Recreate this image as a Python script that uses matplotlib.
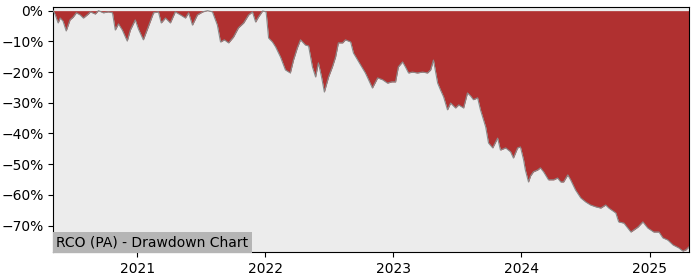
import matplotlib
matplotlib.use("Agg")
import matplotlib.pyplot as plt
import matplotlib.dates as mdates
import matplotlib.ticker as mticker
import pandas as pd

dates = [
    "2020-05-06", "2020-05-12", "2020-05-20", "2020-05-26", "2020-06-03", "2020-06-12",
    "2020-06-23", "2020-07-02", "2020-07-11", "2020-07-22", "2020-07-31", "2020-08-14",
    "2020-08-20", "2020-09-03", "2020-09-12", "2020-09-26", "2020-10-10", "2020-10-22",
    "2020-10-30", "2020-11-08", "2020-11-19", "2020-12-03", "2020-12-12", "2020-12-26",
    "2021-01-04", "2021-01-18", "2021-02-01", "2021-02-16", "2021-03-02", "2021-03-10",
    "2021-03-22", "2021-04-05", "2021-04-19", "2021-05-04", "2021-05-18", "2021-05-27",
    "2021-06-07", "2021-06-21", "2021-07-06", "2021-07-20", "2021-08-03", "2021-08-17",
    "2021-08-26", "2021-09-06", "2021-09-18", "2021-10-02", "2021-10-16", "2021-10-31",
    "2021-11-14", "2021-11-25", "2021-12-04", "2021-12-12", "2021-12-24",
    "2022-01-03", "2022-01-10", "2022-01-21", "2022-01-30", "2022-02-13", "2022-02-27",
    "2022-03-13", "2022-03-22", "2022-04-02", "2022-04-11", "2022-04-25", "2022-05-04",
    "2022-05-15", "2022-05-24", "2022-06-01", "2022-06-10", "2022-06-18", "2022-06-30",
    "2022-07-11", "2022-07-20", "2022-07-28", "2022-08-09", "2022-08-17", "2022-09-01",
    "2022-09-09", "2022-09-21", "2022-09-29", "2022-10-13", "2022-10-22", "2022-11-02",
    "2022-11-17", "2022-12-01", "2022-12-15", "2022-12-27",
    "2023-01-07", "2023-01-15", "2023-01-27", "2023-02-04", "2023-02-13", "2023-02-24",
    "2023-03-10", "2023-03-25", "2023-04-08", "2023-04-17", "2023-04-25", "2023-05-07",
    "2023-05-15", "2023-05-24", "2023-06-04", "2023-06-13", "2023-06-27", "2023-07-06",
    "2023-07-20", "2023-07-31", "2023-08-09", "2023-08-17", "2023-08-29", "2023-09-06",
    "2023-09-21", "2023-09-29", "2023-10-11", "2023-10-25", "2023-11-02", "2023-11-17",
    "2023-12-01", "2023-12-09", "2023-12-21", "2023-12-29",
    "2024-01-07", "2024-01-12", "2024-01-21", "2024-01-27", "2024-02-04", "2024-02-16",
    "2024-02-24", "2024-03-04", "2024-03-18", "2024-04-02", "2024-04-13", "2024-04-22",
    "2024-04-30", "2024-05-12", "2024-05-20", "2024-06-03", "2024-06-18", "2024-07-02",
    "2024-07-16", "2024-07-31", "2024-08-14", "2024-08-28", "2024-09-06", "2024-09-26",
    "2024-10-04", "2024-10-19", "2024-11-08", "2024-11-28", "2024-12-12", "2024-12-26",
    "2025-01-12", "2025-01-27", "2025-02-07", "2025-02-21", "2025-03-08", "2025-03-25",
    "2025-04-05", "2025-04-14", "2025-04-22",
]

drawdown_pct = [
    0.0, -1.4, -4.0, -2.4, -3.4, -6.6,
    -3.0, -2.1, -0.7, -1.4, -2.4, -1.1,
    -0.4, -1.1, 0.0, -0.7, -0.4, -0.7,
    -6.3, -4.3, -6.3, -9.9, -6.3, -3.0,
    -6.0, -9.5, -5.3, -0.7, -0.4, -4.0,
    -2.4, -4.0, -0.4, -1.4, -2.4, -0.7,
    -4.7, -1.4, -0.4, 0.0, -0.4, -4.7,
    -10.2, -9.5, -10.5, -8.6, -5.6, -4.0,
    -1.4, -0.4, -3.7, -2.1, -0.1,
    -0.4, -8.9, -10.2, -11.8, -15.1, -19.3,
    -20.3, -16.1, -12.1, -9.5, -11.2, -11.5,
    -18.3, -21.6, -17.0, -21.6, -26.5, -21.6,
    -18.3, -15.1, -10.5, -10.5, -9.5, -10.2,
    -13.8, -16.1, -17.7, -20.3, -22.5, -25.2,
    -21.9, -22.5, -23.6, -23.2,
    -23.2, -18.3, -16.7, -18.3, -20.3, -20.0,
    -20.3, -20.0, -20.3, -19.3, -16.1, -23.6,
    -25.8, -28.1, -32.3, -30.1, -31.7, -30.7,
    -31.7, -26.8, -27.8, -29.0, -28.4, -32.3,
    -37.9, -43.1, -44.7, -41.5, -45.4, -44.7,
    -46.0, -48.0, -44.7, -44.4,
    -48.6, -51.9, -55.8, -53.8, -52.5, -51.9,
    -51.2, -52.5, -55.1, -55.1, -54.5, -55.8,
    -55.8, -53.5, -55.1, -58.4, -61.0, -62.3,
    -63.3, -63.9, -64.3, -63.3, -64.3, -65.9,
    -68.8, -69.2, -72.1, -70.5, -68.8, -70.8,
    -72.1, -72.1, -74.0, -74.7, -76.3, -77.3,
    -78.3, -77.9, -77.0,
]

title = "RCO (PA) - Drawdown Chart"

x = pd.to_datetime(dates)
y = [v / 100.0 for v in drawdown_pct]

fig = plt.figure(figsize=(7, 2.8), dpi=100)
ax = fig.add_axes([0.076, 0.099, 0.908, 0.875])
ax.set_facecolor("#ececec")

ax.fill_between(x, 0, y, color="#b03030", linewidth=0, zorder=2)
ax.plot(x, y, color="#8a8a8a", linewidth=0.8, zorder=3)

ax.set_xlim(x[0], x[-1])
ax.set_ylim(-0.787, 0.011)

ax.yaxis.set_major_locator(mticker.MultipleLocator(0.10))
ax.yaxis.set_major_formatter(mticker.FuncFormatter(
    lambda v, p: ("\u2212" if round(v * 100) < 0 else "") + f"{abs(round(v * 100)):.0f}%"))
ax.xaxis.set_major_locator(mdates.YearLocator())
ax.xaxis.set_major_formatter(mdates.DateFormatter("%Y"))
ax.tick_params(labelsize=10)

ax.text(0.005, 0.012, title, transform=ax.transAxes, fontsize=10,
        ha="left", va="bottom", zorder=5,
        bbox=dict(facecolor="#b5b5b5", edgecolor="none", pad=2.5))

fig.savefig("out.png", dpi=100)
